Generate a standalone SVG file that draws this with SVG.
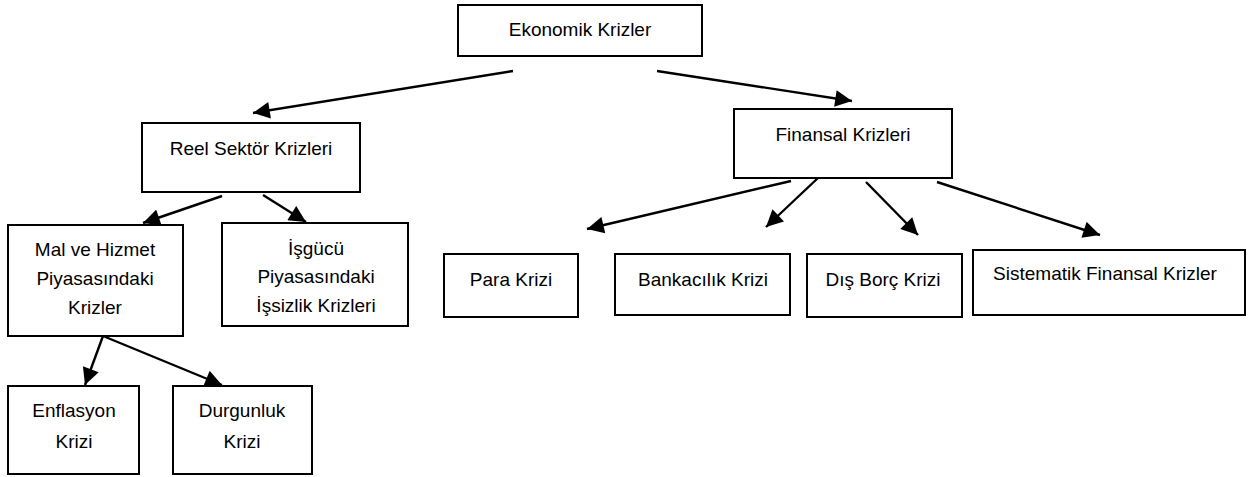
<svg xmlns="http://www.w3.org/2000/svg" width="1254" height="477" viewBox="0 0 1254 477">
<style>
.box{fill:#fff;stroke:#000;stroke-width:2}
.t{font-family:"Liberation Sans",Arial,sans-serif;font-size:19px;fill:#000;text-anchor:middle}
.c line{stroke:#000;stroke-width:2.4;marker-end:url(#ah)}
</style>
<defs>
<marker id="ah" viewBox="0 0 10 10" refX="10" refY="5" markerWidth="7.5" markerHeight="7" orient="auto" markerUnits="strokeWidth">
<path d="M0,0 L10,5 L0,10 Z" fill="#000"/>
</marker>
</defs>
<rect width="1254" height="477" fill="#fff"/>
<g id="connectors" class="c">
<line x1="513" y1="71" x2="253" y2="113"/>
<line x1="657" y1="71" x2="852" y2="101"/>
<line x1="222" y1="196" x2="143" y2="223"/>
<line x1="263" y1="195" x2="306" y2="222"/>
<line x1="103" y1="336" x2="85" y2="385"/>
<line x1="103" y1="336" x2="222" y2="385"/>
<line x1="791" y1="181" x2="587" y2="229"/>
<line x1="818" y1="178" x2="766" y2="227"/>
<line x1="866" y1="182" x2="918" y2="235"/>
<line x1="937" y1="182" x2="1100" y2="235"/>
</g>
<g id="ekonomik">
<rect class="box" x="458" y="5" width="244" height="51"/>
<text class="t" x="580" y="36">Ekonomik Krizler</text>
</g>
<g id="reel">
<rect class="box" x="142" y="123" width="218" height="69"/>
<text class="t" x="251" y="155">Reel Sektör Krizleri</text>
</g>
<g id="finansal">
<rect class="box" x="734" y="109" width="218" height="69"/>
<text class="t" x="843" y="141">Finansal Krizleri</text>
</g>
<g id="mal">
<rect class="box" x="8" y="225" width="175" height="111"/>
<text class="t" x="95" y="256">Mal ve Hizmet</text>
<text class="t" x="95" y="285">Piyasasındaki</text>
<text class="t" x="95" y="314">Krizler</text>
</g>
<g id="isgucu">
<rect class="box" x="222" y="223" width="186" height="103"/>
<text class="t" x="316" y="255">İşgücü</text>
<text class="t" x="316" y="283">Piyasasındaki</text>
<text class="t" x="316" y="312">İşsizlik Krizleri</text>
</g>
<g id="enflasyon">
<rect class="box" x="8" y="386" width="131" height="88"/>
<text class="t" x="74" y="417">Enflasyon</text>
<text class="t" x="74" y="448">Krizi</text>
</g>
<g id="durgunluk">
<rect class="box" x="173" y="386" width="139" height="88"/>
<text class="t" x="242" y="417">Durgunluk</text>
<text class="t" x="242" y="448">Krizi</text>
</g>
<g id="para">
<rect class="box" x="444" y="254" width="134" height="63"/>
<text class="t" x="511" y="286">Para Krizi</text>
</g>
<g id="bankacilik">
<rect class="box" x="615" y="254" width="175" height="61"/>
<text class="t" x="703" y="286">Bankacılık Krizi</text>
</g>
<g id="disborc">
<rect class="box" x="807" y="254" width="155" height="63"/>
<text class="t" x="883" y="286">Dış Borç Krizi</text>
</g>
<g id="sistematik">
<rect class="box" x="973" y="250" width="272" height="65"/>
<text class="t" x="1105" y="280">Sistematik Finansal Krizler</text>
</g>
</svg>
